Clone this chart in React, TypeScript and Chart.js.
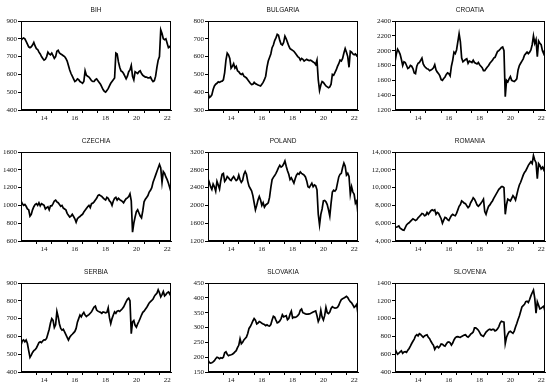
import React, { useEffect, useRef } from "react";
import { Chart, registerables } from "chart.js";
Chart.register(...registerables);

// ---- categories (monthly dates as year fractions, Jan 2013 .. Oct 2022) ----
const START_YEAR = 2013;
const N_MONTHS = 118;
const DATES: number[] = Array.from({ length: N_MONTHS }, (_, i) => START_YEAR + i / 12);
const X_MIN = 2013;
const X_MAX = 2022.75;
const YEAR_TICKS = [2014, 2015, 2016, 2017, 2018, 2019, 2020, 2021, 2022];
const LABEL_YEARS = [2014, 2016, 2018, 2020, 2022];

// ---- series values (monthly readings) ----
const BIH = [
  790, 800, 805, 800, 785, 770, 755, 750, 755, 765, 780, 760,
  745, 740, 725, 715, 700, 690, 680, 685, 700, 725, 715, 710,
  720, 705, 690, 700, 730, 735, 720, 715, 710, 705, 700, 690,
  675, 650, 625, 605, 590, 575, 560, 565, 575, 570, 560, 555,
  550, 560, 620, 595, 590, 585, 575, 565, 560, 560, 570, 575,
  565, 555, 545, 530, 515, 505, 500, 510, 520, 535, 550, 560,
  570, 580, 720, 715, 670, 640, 620, 615, 605, 590, 575, 590,
  615, 625, 650, 590, 570, 615, 610, 605, 615, 620, 605, 595,
  590, 585, 585, 580, 580, 585, 570, 560, 565, 590, 640, 680,
  700, 850, 830, 800, 795, 800, 775, 750, 755, 765,
];
const BULGARIA = [
  395, 370, 375, 385, 415, 435, 445, 450, 458, 455, 460, 462,
  470, 510, 580, 620, 610, 590, 535, 545, 560, 535, 545, 520,
  515, 505, 500, 505, 490, 485, 480, 470, 460, 450, 443, 445,
  455, 448, 445, 440, 438, 435, 445, 455, 470, 490, 540, 575,
  595, 615, 650, 665, 690, 705, 725, 720, 690, 670, 665, 680,
  715, 700, 680, 660, 645, 640, 635, 630, 620, 610, 600, 595,
  580, 590, 585, 575, 580, 585, 580, 578, 580, 575, 570, 565,
  555, 580, 470, 410, 440, 460, 455, 445, 435, 430, 425, 430,
  445, 500, 495, 510, 525, 545, 560, 580, 575, 590, 620, 645,
  625, 600, 540, 630, 625, 615, 610, 615, 605, 615,
];
const CROATIA = [
  1850, 1950, 2020, 1990, 1950, 1880, 1800, 1850, 1840, 1800, 1760, 1770,
  1800, 1790, 1760, 1700, 1690, 1790, 1830, 1840, 1870, 1900, 1820, 1790,
  1770, 1755, 1750, 1730, 1740, 1750, 1770, 1810, 1740, 1710, 1690, 1660,
  1610, 1600, 1625, 1645, 1680, 1700, 1690, 1660, 1790, 1870, 1980, 1960,
  2010, 2120, 2230, 2120, 1900, 1850, 1865, 1880, 1890, 1830, 1860, 1850,
  1840, 1870, 1840, 1830, 1820, 1840, 1810, 1790, 1770, 1730, 1730, 1755,
  1780, 1800, 1830, 1850, 1870, 1900, 1910, 1950, 1990, 2000, 2020, 2040,
  2050, 2000, 1380, 1600, 1580, 1620, 1650, 1600, 1590, 1585, 1600, 1620,
  1740, 1800, 1830, 1860, 1890, 1940, 1960, 1980, 1960, 1980, 2010, 2080,
  2200, 2100, 2150, 1920, 2130, 2100, 2080, 2000, 1960, 2020,
];
const CZECHIA = [
  1050, 1020, 1000, 1010, 990, 960, 950, 880, 900, 950, 985, 1010,
  1020, 1000, 1030, 995, 1020, 1010, 1000, 960, 975, 985, 950, 995,
  995, 1020, 1050, 1060, 1040, 1030, 1010, 990, 1000, 970, 960, 950,
  910, 890, 870, 880, 900, 875, 850, 810, 850, 865, 875, 890,
  900, 925, 945, 965, 985, 1000, 975, 1020, 1025, 1040, 1060, 1080,
  1110, 1120, 1110, 1100, 1085, 1070, 1060, 1090, 1080, 1050, 1035, 1000,
  1050, 1080, 1090, 1060, 1080, 1065, 1055, 1045, 1030, 1055, 1075, 1085,
  1100, 1130, 1050, 700, 800, 870, 930, 950, 915, 880, 860, 940,
  1040, 1070, 1090, 1110, 1150, 1170, 1200, 1260, 1300, 1340, 1380, 1420,
  1460, 1420, 1260, 1380, 1360, 1320, 1290, 1250, 1200, 1150,
];
const POLAND = [
  2600, 2520, 2420, 2360, 2480, 2420, 2320, 2540, 2460, 2370, 2560, 2700,
  2720, 2540, 2580, 2650, 2620, 2580, 2560, 2610, 2650, 2600, 2560, 2580,
  2680, 2580, 2520, 2560, 2700, 2760, 2700, 2540, 2430, 2380, 2330, 2220,
  2060, 1900, 2000, 2120, 2200, 2120, 2000, 2060, 1960, 2010, 2030, 2060,
  2180, 2400, 2580, 2630, 2670, 2720, 2780, 2850, 2900, 2860, 2880, 2930,
  3000, 2880, 2780, 2700, 2580, 2620, 2560, 2500, 2600, 2680, 2720, 2700,
  2750, 2720, 2700, 2680, 2640, 2550, 2420, 2400, 2450, 2500, 2420, 2460,
  2440, 2350, 1800, 1560, 1800, 1920, 2100, 2110, 2080, 2020, 1900, 1760,
  2050, 2300, 2340, 2320, 2360, 2500, 2640, 2700, 2720, 2850, 2950, 2880,
  2680, 2720, 2650, 2250, 2420, 2300, 2250, 2050, 2100, 1800,
];
const ROMANIA = [
  5600, 5550, 5600, 5700, 5450, 5350, 5250, 5200, 5500, 5800, 5950, 6050,
  6200, 6350, 6500, 6400, 6300, 6400, 6600, 6750, 6900, 7100, 7050, 6850,
  6900, 7200, 7000, 7200, 7400, 7500, 7400, 7500, 7000, 7200, 7100, 6800,
  6500, 6000, 6350, 6650, 6600, 6400, 6300, 6600, 6850, 7000, 6900, 6850,
  7100, 7500, 7900, 8100, 8500, 8400, 8250, 8200, 7950, 7750, 7900, 8300,
  8550, 8850, 8700, 8400, 8050, 7900, 8050, 8250, 8450, 8700, 7300, 7000,
  7500, 7900, 8050, 8300, 8500, 8800, 9050, 9300, 9550, 9800, 9950, 10100,
  10100, 10000, 7000, 8100, 8700, 8600, 8500, 8800, 9100, 8900, 8600, 9200,
  9800, 10300, 10600, 11000, 11400, 11700, 11900, 12200, 12500, 12700, 12900, 12700,
  13600, 13100, 12800, 11000, 12700, 12500, 12100, 12300, 12000, 12600,
];
const SERBIA = [
  550, 575, 580, 570, 580, 560, 520, 482, 495, 510, 520, 525,
  535, 550, 565, 570, 565, 575, 580, 580, 590, 615, 640, 675,
  700, 690, 650, 665, 740, 710, 670, 645, 635, 640, 625, 610,
  595, 580, 595, 605, 612, 620, 628, 645, 680, 700, 720, 710,
  725, 735, 720, 712, 718, 722, 730, 738, 752, 765, 770, 748,
  742, 738, 735, 730, 738, 736, 732, 735, 760, 705, 672, 700,
  720, 738, 730, 742, 745, 740, 748, 755, 765, 780, 795, 808,
  815, 800, 615, 682, 690, 662, 652, 670, 685, 702, 720, 735,
  742, 752, 762, 775, 788, 795, 802, 810, 825, 835, 842, 862,
  845, 822, 835, 852, 828, 835, 845, 850, 838, 855,
];
const SLOVAKIA = [
  190, 182, 180, 181, 184, 188, 195, 200, 198, 195, 198, 196,
  200, 215, 218, 210, 205, 207, 208, 210, 213, 218, 222, 232,
  240, 262, 245, 250, 258, 263, 268, 280, 297, 303, 312, 322,
  330, 325, 312, 315, 320, 318, 314, 312, 310, 306, 309, 306,
  305, 310, 325, 338, 335, 325, 316, 318, 322, 330, 343, 336,
  338, 340, 326, 330, 345, 355, 332, 335, 334, 336, 340, 345,
  358, 362, 350, 348, 346, 345, 345, 346, 347, 350, 352, 354,
  356, 340, 320, 330, 358, 335, 325, 340, 368, 350, 347, 352,
  364, 370, 367, 365, 366, 368, 375, 386, 394, 397, 399, 402,
  405, 401, 393, 387, 383, 376, 368, 372, 378, 345,
];
const SLOVENIA = [
  660, 625, 600, 612, 625, 638, 610, 625, 628, 620, 645, 665,
  690, 720, 745, 770, 805, 820, 805, 830, 822, 805, 790, 805,
  812, 818, 790, 775, 745, 720, 700, 655, 680, 688, 672, 690,
  715, 712, 698, 690, 715, 735, 738, 728, 702, 725, 760, 785,
  795, 798, 792, 790, 800, 808, 815, 818, 800, 792, 805, 825,
  835, 850, 895, 895, 885, 870, 845, 818, 808, 800, 825, 848,
  862, 875, 880, 872, 878, 878, 862, 868, 885, 910, 950, 970,
  965, 960, 720, 790, 825, 850, 858, 845, 835, 860, 905, 945,
  990, 1030, 1080, 1130, 1145, 1160, 1190, 1195, 1180, 1215, 1255, 1290,
  1320, 1230, 1060, 1190, 1150, 1110, 1115, 1130, 1140, 1080,
];

type PanelDef = {
  title: string;
  values: number[];
  min: number;
  max: number;
  step: number;
  col: number;
  row: number;
  comma?: boolean;
};

const PANELS: PanelDef[] = [
  { title: "BIH", values: BIH, min: 400, max: 900, step: 100, col: 0, row: 0 },
  { title: "BULGARIA", values: BULGARIA, min: 300, max: 800, step: 100, col: 1, row: 0 },
  { title: "CROATIA", values: CROATIA, min: 1200, max: 2400, step: 200, col: 2, row: 0 },
  { title: "CZECHIA", values: CZECHIA, min: 600, max: 1600, step: 200, col: 0, row: 1 },
  { title: "POLAND", values: POLAND, min: 1200, max: 3200, step: 400, col: 1, row: 1 },
  { title: "ROMANIA", values: ROMANIA, min: 4000, max: 14000, step: 2000, col: 2, row: 1, comma: true },
  { title: "SERBIA", values: SERBIA, min: 400, max: 900, step: 100, col: 0, row: 2 },
  { title: "SLOVAKIA", values: SLOVAKIA, min: 150, max: 450, step: 50, col: 1, row: 2 },
  { title: "SLOVENIA", values: SLOVENIA, min: 400, max: 1400, step: 200, col: 2, row: 2 },
];

// ---- layout ----
const COL_LEFT = [21, 208, 395];
const ROW_TOP = [21, 152, 283];
const PLOT_W = 150;
const PLOT_H = 89;
const YW = 28;
const TOP_PAD = 18;
const RIGHT_PAD = 4;
const XH = 15;

const TICK_FONT = { family: '"Liberation Serif", "Times New Roman", serif', size: 7 };
const TITLE_FONT = '6.5px "Liberation Sans", Arial, sans-serif';

const framePlugin = {
  id: "frameAndTitle",
  afterDraw(chart: any) {
    const { ctx, chartArea } = chart;
    const l = Math.round(chartArea.left) + 0.5;
    const t = Math.round(chartArea.top) + 0.5;
    const r = Math.round(chartArea.right) - 0.5;
    const b = Math.round(chartArea.bottom) - 0.5;
    ctx.save();
    ctx.strokeStyle = "#000";
    ctx.lineWidth = 1;
    ctx.strokeRect(l, t, r - l, b - t);
    const title = chart.options.plugins.panelTitle?.text || "";
    ctx.fillStyle = "#111";
    ctx.font = TITLE_FONT;
    ctx.textAlign = "center";
    ctx.textBaseline = "middle";
    ctx.fillText(title, (chartArea.left + chartArea.right) / 2, chartArea.top - 11);
    ctx.restore();
  },
};

function Panel({ p }: { p: PanelDef }) {
  const ref = useRef<HTMLCanvasElement | null>(null);
  const width = YW + PLOT_W + RIGHT_PAD;
  const height = TOP_PAD + PLOT_H + XH;
  useEffect(() => {
    if (!ref.current) return;
    const chart = new Chart(ref.current, {
      type: "line",
      data: {
        datasets: [
          {
            data: DATES.map((x, i) => ({ x, y: p.values[i] })),
            borderColor: "#000",
            borderWidth: 1.7,
            pointRadius: 0,
            tension: 0,
            fill: false,
          },
        ],
      },
      options: {
        responsive: false,
        animation: false,
        devicePixelRatio: 1,
        layout: { padding: { left: 0, top: TOP_PAD, right: RIGHT_PAD, bottom: 0 } },
        plugins: {
          legend: { display: false },
          tooltip: { enabled: false },
          title: { display: false },
          panelTitle: { text: p.title },
        } as any,
        scales: {
          x: {
            type: "linear",
            min: X_MIN,
            max: X_MAX,
            afterBuildTicks: (s: any) => {
              const vals = [...YEAR_TICKS, ...LABEL_YEARS.map((y) => y + 0.5)].sort((a, b) => a - b);
              s.ticks = vals.map((v) => ({ value: v }));
            },
            afterFit: (s: any) => {
              s.height = XH;
            },
            ticks: {
              autoSkip: false,
              maxRotation: 0,
              minRotation: 0,
              padding: 1,
              color: "#111",
              font: TICK_FONT,
              callback: (v: any) => {
                const n = Number(v);
                return Math.abs((n % 1) - 0.5) < 1e-6 ? String(Math.floor(n) % 100) : "";
              },
            },
            grid: {
              drawOnChartArea: false,
              drawTicks: true,
              tickLength: 3,
              color: (ctx: any) =>
                ctx.tick && Math.abs(ctx.tick.value % 1) < 1e-6 ? "#000" : "rgba(0,0,0,0)",
            },
            border: { color: "#000", width: 1 },
          },
          y: {
            type: "linear",
            min: p.min,
            max: p.max,
            afterFit: (s: any) => {
              s.width = YW;
            },
            ticks: {
              stepSize: p.step,
              padding: 1,
              color: "#111",
              font: TICK_FONT,
              callback: (v: any) =>
                p.comma ? Number(v).toLocaleString("en-US") : String(v),
            },
            grid: { drawOnChartArea: false, drawTicks: true, tickLength: 3, color: "#000" },
            border: { color: "#000", width: 1 },
          },
        },
      },
      plugins: [framePlugin],
    });
    return () => chart.destroy();
  }, [p]);
  return (
    <canvas
      ref={ref}
      width={width}
      height={height}
      style={{
        position: "absolute",
        left: COL_LEFT[p.col] - YW,
        top: ROW_TOP[p.row] - TOP_PAD,
        width,
        height,
      }}
    />
  );
}

export default function App() {
  return (
    <div
      style={{
        position: "fixed",
        left: 0,
        top: 0,
        width: 550,
        height: 387,
        background: "#fff",
        overflow: "hidden",
      }}
    >
      {PANELS.map((p) => (
        <Panel key={p.title} p={p} />
      ))}
    </div>
  );
}
